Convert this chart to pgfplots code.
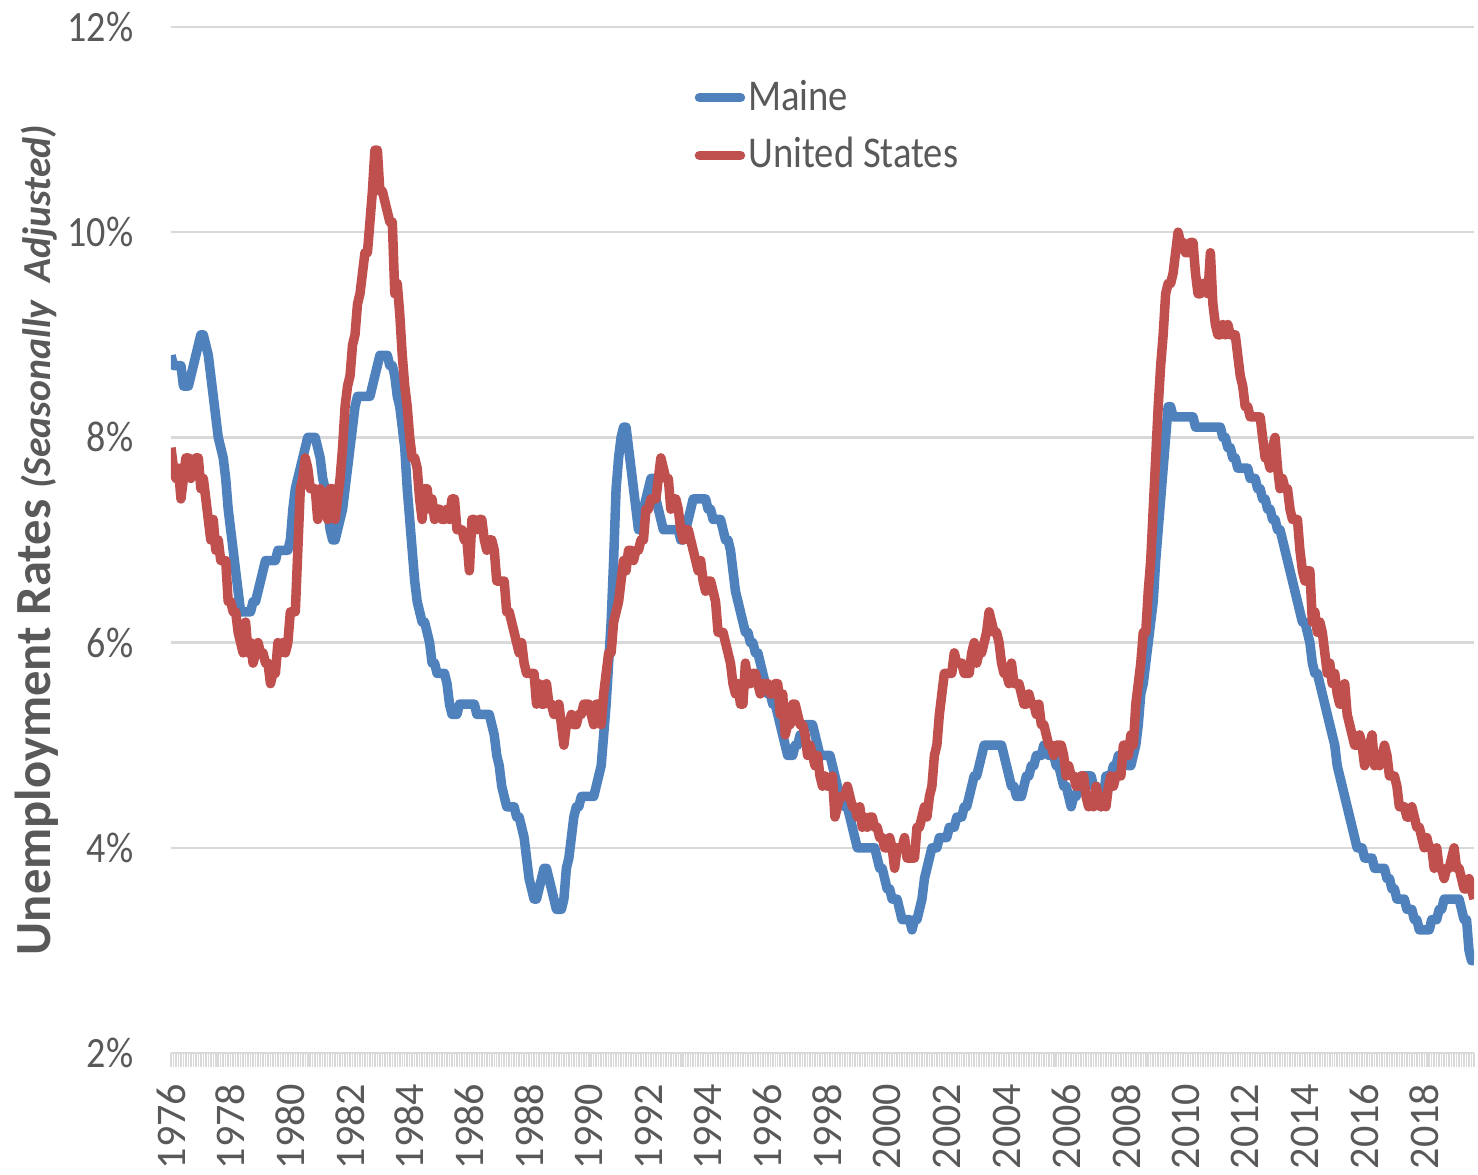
\documentclass[border=0pt]{standalone}
\usepackage{fontspec}
\setmainfont{Carlito}
\newfontfamily\hfont{Carlito}[FakeStretch=0.88]
\usepackage{pgfplots}
\usepackage{pgfplotstable}
\pgfplotsset{compat=1.18}
\definecolor{meblue}{HTML}{4F81BD}
\definecolor{usred}{HTML}{C0504D}
\definecolor{txtgray}{HTML}{595959}
\definecolor{gridgray}{HTML}{D9D9D9}

% Maine, monthly, Jan 1976 - Sep 2019
\pgfplotstableread[row sep=\\]{
v\\
8.8\\8.7\\8.7\\8.7\\8.7\\8.5\\8.5\\8.5\\8.6\\8.7\\8.8\\8.9\\
9.0\\9.0\\8.9\\8.8\\8.6\\8.4\\8.2\\8.0\\7.9\\7.8\\7.6\\7.3\\
7.1\\6.9\\6.7\\6.5\\6.3\\6.3\\6.3\\6.3\\6.3\\6.4\\6.4\\6.5\\
6.6\\6.7\\6.8\\6.8\\6.8\\6.8\\6.8\\6.9\\6.9\\6.9\\6.9\\6.9\\
7.0\\7.3\\7.5\\7.6\\7.7\\7.8\\7.9\\8.0\\8.0\\8.0\\8.0\\7.9\\
7.8\\7.6\\7.5\\7.3\\7.1\\7.0\\7.0\\7.1\\7.2\\7.3\\7.5\\7.7\\
7.9\\8.1\\8.3\\8.4\\8.4\\8.4\\8.4\\8.4\\8.4\\8.5\\8.6\\8.7\\
8.8\\8.8\\8.8\\8.8\\8.7\\8.7\\8.6\\8.4\\8.3\\8.1\\7.9\\7.5\\
7.2\\6.9\\6.6\\6.4\\6.3\\6.2\\6.2\\6.1\\6.0\\5.8\\5.8\\5.7\\
5.7\\5.7\\5.7\\5.6\\5.4\\5.3\\5.3\\5.3\\5.4\\5.4\\5.4\\5.4\\
5.4\\5.4\\5.4\\5.3\\5.3\\5.3\\5.3\\5.3\\5.3\\5.2\\5.1\\4.9\\
4.8\\4.6\\4.5\\4.4\\4.4\\4.4\\4.4\\4.3\\4.3\\4.2\\4.1\\3.9\\
3.7\\3.6\\3.5\\3.5\\3.6\\3.7\\3.8\\3.8\\3.7\\3.6\\3.5\\3.4\\
3.4\\3.4\\3.5\\3.8\\3.9\\4.1\\4.3\\4.4\\4.4\\4.5\\4.5\\4.5\\
4.5\\4.5\\4.5\\4.6\\4.7\\4.8\\5.1\\5.4\\5.8\\6.2\\6.8\\7.5\\
7.8\\8.0\\8.1\\8.1\\7.9\\7.7\\7.5\\7.3\\7.1\\7.1\\7.3\\7.4\\
7.5\\7.6\\7.6\\7.4\\7.3\\7.2\\7.1\\7.1\\7.1\\7.1\\7.1\\7.1\\
7.1\\7.0\\7.0\\7.1\\7.2\\7.3\\7.4\\7.4\\7.4\\7.4\\7.4\\7.4\\
7.3\\7.3\\7.2\\7.2\\7.2\\7.2\\7.1\\7.0\\7.0\\6.9\\6.7\\6.5\\
6.4\\6.3\\6.2\\6.1\\6.1\\6.0\\6.0\\5.9\\5.9\\5.8\\5.7\\5.6\\
5.5\\5.5\\5.4\\5.4\\5.3\\5.2\\5.1\\5.0\\4.9\\4.9\\4.9\\5.0\\
5.0\\5.1\\5.1\\5.2\\5.2\\5.2\\5.2\\5.1\\5.0\\4.9\\4.9\\4.9\\
4.9\\4.9\\4.8\\4.7\\4.6\\4.5\\4.5\\4.4\\4.4\\4.3\\4.2\\4.1\\
4.0\\4.0\\4.0\\4.0\\4.0\\4.0\\4.0\\4.0\\3.9\\3.8\\3.8\\3.7\\
3.6\\3.6\\3.5\\3.5\\3.5\\3.4\\3.3\\3.3\\3.3\\3.3\\3.2\\3.3\\
3.3\\3.4\\3.5\\3.7\\3.8\\3.9\\4.0\\4.0\\4.0\\4.1\\4.1\\4.1\\
4.1\\4.2\\4.2\\4.2\\4.3\\4.3\\4.3\\4.4\\4.4\\4.5\\4.6\\4.7\\
4.7\\4.8\\4.9\\5.0\\5.0\\5.0\\5.0\\5.0\\5.0\\5.0\\5.0\\4.9\\
4.8\\4.7\\4.6\\4.6\\4.5\\4.5\\4.5\\4.6\\4.7\\4.7\\4.8\\4.8\\
4.9\\4.9\\4.9\\5.0\\5.0\\4.9\\4.9\\4.9\\4.8\\4.8\\4.7\\4.6\\
4.6\\4.5\\4.4\\4.5\\4.5\\4.6\\4.7\\4.7\\4.7\\4.7\\4.7\\4.6\\
4.6\\4.5\\4.4\\4.5\\4.7\\4.7\\4.7\\4.8\\4.8\\4.9\\4.9\\4.9\\
4.9\\4.8\\4.8\\4.9\\5.0\\5.2\\5.5\\5.6\\5.8\\6.0\\6.2\\6.4\\
6.8\\7.1\\7.4\\7.7\\8.0\\8.3\\8.3\\8.2\\8.2\\8.2\\8.2\\8.2\\
8.2\\8.2\\8.2\\8.2\\8.1\\8.1\\8.1\\8.1\\8.1\\8.1\\8.1\\8.1\\
8.1\\8.1\\8.1\\8.0\\8.0\\7.9\\7.9\\7.8\\7.8\\7.7\\7.7\\7.7\\
7.7\\7.7\\7.6\\7.6\\7.6\\7.5\\7.5\\7.4\\7.4\\7.3\\7.3\\7.2\\
7.2\\7.1\\7.1\\7.0\\6.9\\6.8\\6.7\\6.6\\6.5\\6.4\\6.3\\6.2\\
6.2\\6.1\\6.0\\5.8\\5.7\\5.7\\5.6\\5.5\\5.4\\5.3\\5.2\\5.1\\
5.0\\4.8\\4.7\\4.6\\4.5\\4.4\\4.3\\4.2\\4.1\\4.0\\4.0\\4.0\\
3.9\\3.9\\3.9\\3.9\\3.8\\3.8\\3.8\\3.8\\3.8\\3.7\\3.7\\3.6\\
3.6\\3.5\\3.5\\3.5\\3.5\\3.4\\3.4\\3.4\\3.3\\3.3\\3.2\\3.2\\
3.2\\3.2\\3.2\\3.3\\3.3\\3.3\\3.4\\3.4\\3.5\\3.5\\3.5\\3.5\\
3.5\\3.5\\3.5\\3.4\\3.3\\3.3\\3.0\\2.9\\2.9\\
}\maine

% United States, monthly, Jan 1976 - Sep 2019
\pgfplotstableread[row sep=\\]{
v\\
7.9\\7.7\\7.6\\7.7\\7.4\\7.6\\7.8\\7.8\\7.6\\7.7\\7.8\\7.8\\
7.5\\7.6\\7.4\\7.2\\7.0\\7.2\\6.9\\7.0\\6.8\\6.8\\6.8\\6.4\\
6.4\\6.3\\6.3\\6.1\\6.0\\5.9\\6.2\\5.9\\6.0\\5.8\\5.9\\6.0\\
5.9\\5.9\\5.8\\5.8\\5.6\\5.7\\5.7\\6.0\\5.9\\6.0\\5.9\\6.0\\
6.3\\6.3\\6.3\\6.9\\7.5\\7.6\\7.8\\7.7\\7.5\\7.5\\7.5\\7.2\\
7.5\\7.4\\7.4\\7.2\\7.5\\7.5\\7.2\\7.4\\7.6\\7.9\\8.3\\8.5\\
8.6\\8.9\\9.0\\9.3\\9.4\\9.6\\9.8\\9.8\\10.1\\10.4\\10.8\\10.8\\
10.4\\10.4\\10.3\\10.2\\10.1\\10.1\\9.4\\9.5\\9.2\\8.8\\8.5\\8.3\\
8.0\\7.8\\7.8\\7.7\\7.4\\7.2\\7.5\\7.5\\7.3\\7.4\\7.2\\7.3\\
7.3\\7.2\\7.2\\7.3\\7.2\\7.4\\7.4\\7.1\\7.1\\7.1\\7.0\\7.0\\
6.7\\7.2\\7.2\\7.1\\7.2\\7.2\\7.0\\6.9\\7.0\\7.0\\6.9\\6.6\\
6.6\\6.6\\6.6\\6.3\\6.3\\6.2\\6.1\\6.0\\5.9\\6.0\\5.8\\5.7\\
5.7\\5.7\\5.7\\5.4\\5.6\\5.4\\5.4\\5.6\\5.4\\5.4\\5.3\\5.3\\
5.4\\5.2\\5.0\\5.2\\5.2\\5.3\\5.2\\5.2\\5.3\\5.3\\5.4\\5.4\\
5.4\\5.3\\5.2\\5.4\\5.4\\5.2\\5.5\\5.7\\5.9\\5.9\\6.2\\6.3\\
6.4\\6.6\\6.8\\6.7\\6.9\\6.9\\6.8\\6.9\\6.9\\7.0\\7.0\\7.3\\
7.3\\7.4\\7.4\\7.4\\7.6\\7.8\\7.7\\7.6\\7.6\\7.3\\7.4\\7.4\\
7.3\\7.1\\7.0\\7.1\\7.1\\7.0\\6.9\\6.8\\6.7\\6.8\\6.6\\6.5\\
6.6\\6.6\\6.5\\6.4\\6.1\\6.1\\6.1\\6.0\\5.9\\5.8\\5.6\\5.5\\
5.6\\5.4\\5.4\\5.8\\5.6\\5.6\\5.7\\5.7\\5.6\\5.5\\5.6\\5.6\\
5.6\\5.5\\5.5\\5.6\\5.6\\5.3\\5.5\\5.1\\5.2\\5.2\\5.4\\5.4\\
5.3\\5.2\\5.2\\5.1\\4.9\\5.0\\4.9\\4.8\\4.9\\4.7\\4.6\\4.7\\
4.6\\4.6\\4.7\\4.3\\4.4\\4.5\\4.5\\4.5\\4.6\\4.5\\4.4\\4.4\\
4.3\\4.4\\4.2\\4.3\\4.2\\4.3\\4.3\\4.2\\4.2\\4.1\\4.1\\4.0\\
4.0\\4.1\\4.0\\3.8\\4.0\\4.0\\4.0\\4.1\\3.9\\3.9\\3.9\\3.9\\
4.2\\4.2\\4.3\\4.4\\4.3\\4.5\\4.6\\4.9\\5.0\\5.3\\5.5\\5.7\\
5.7\\5.7\\5.7\\5.9\\5.8\\5.8\\5.8\\5.7\\5.7\\5.7\\5.9\\6.0\\
5.8\\5.9\\5.9\\6.0\\6.1\\6.3\\6.2\\6.1\\6.1\\6.0\\5.8\\5.7\\
5.7\\5.6\\5.8\\5.6\\5.6\\5.6\\5.5\\5.4\\5.4\\5.5\\5.4\\5.4\\
5.3\\5.4\\5.2\\5.2\\5.1\\5.0\\5.0\\4.9\\5.0\\5.0\\5.0\\4.9\\
4.7\\4.8\\4.7\\4.7\\4.6\\4.6\\4.7\\4.7\\4.5\\4.4\\4.5\\4.4\\
4.6\\4.5\\4.4\\4.5\\4.4\\4.6\\4.7\\4.6\\4.7\\4.7\\4.7\\5.0\\
5.0\\4.9\\5.1\\5.0\\5.4\\5.6\\5.8\\6.1\\6.1\\6.5\\6.8\\7.3\\
7.8\\8.3\\8.7\\9.0\\9.4\\9.5\\9.5\\9.6\\9.8\\10.0\\9.9\\9.9\\
9.8\\9.8\\9.9\\9.9\\9.6\\9.4\\9.4\\9.5\\9.5\\9.4\\9.8\\9.3\\
9.1\\9.0\\9.0\\9.1\\9.0\\9.1\\9.0\\9.0\\9.0\\8.8\\8.6\\8.5\\
8.3\\8.3\\8.2\\8.2\\8.2\\8.2\\8.2\\8.0\\7.8\\7.8\\7.7\\7.9\\
8.0\\7.7\\7.5\\7.6\\7.5\\7.5\\7.3\\7.2\\7.2\\7.2\\6.9\\6.7\\
6.6\\6.7\\6.7\\6.2\\6.3\\6.1\\6.2\\6.1\\5.9\\5.7\\5.8\\5.6\\
5.7\\5.5\\5.4\\5.4\\5.6\\5.3\\5.2\\5.1\\5.0\\5.0\\5.1\\5.0\\
4.8\\4.9\\5.0\\5.1\\4.8\\4.9\\4.8\\4.9\\5.0\\4.9\\4.7\\4.7\\
4.7\\4.6\\4.4\\4.4\\4.4\\4.3\\4.3\\4.4\\4.3\\4.2\\4.2\\4.1\\
4.0\\4.1\\4.0\\4.0\\3.8\\4.0\\3.8\\3.8\\3.7\\3.8\\3.8\\3.9\\
4.0\\3.8\\3.8\\3.7\\3.6\\3.6\\3.7\\3.6\\3.5\\
}\usdata

\begin{document}
\begin{tikzpicture}
\useasboundingbox (-17.1mm,-12.2mm) rectangle (130.7mm,105.3mm);
\begin{axis}[
  at={(0,0)}, anchor=south west,
  scale only axis, width=130.3mm, height=102.6mm,
  xmin=1976, xmax=2019.6667, ymin=2, ymax=12,
  axis line style={draw=none},
  ytick={2,4,6,8,10,12},
  yticklabels={2\%,4\%,6\%,8\%,10\%,12\%},
  ytick style={draw=none},
  ymajorgrids, grid style={gridgray, line width=0.25mm},
  xtick={1976,1978,...,2020},
  xticklabels={1976,1978,1980,1982,1984,1986,1988,1990,1992,1994,1996,1998,2000,2002,2004,2006,2008,2010,2012,2014,2016,2018,2020},
  minor x tick num=23,
  xtick pos=lower,
  tick align=outside,
  major tick length=1.4mm, minor tick length=1.4mm,
  xtick style={draw=gridgray, line width=0.15mm},
  y tick label style={font=\fontsize{12.3}{14}\hfont, text=txtgray, anchor=east, inner sep=0pt},
  yticklabel shift=2.3mm,
  x tick label style={font=\fontsize{12}{14}\selectfont, text=txtgray, rotate=90, anchor=east, inner sep=0pt},
  xticklabel shift=1.6mm,
  ylabel={\textbf{Unemployment Rates} {\fontsize{11.3}{13}\selectfont\bfseries\itshape (Seasonally\ \ Adjusted)}},
  every axis y label/.style={at={(axis description cs:-0.1205,0.5)}, rotate=90, anchor=north, inner sep=0pt, font=\fontsize{14.4}{16}\selectfont, text=txtgray},
  legend style={at={(0.4014,0.952)}, anchor=north west, draw=none, fill=none,
    font=\fontsize{12.5}{14}\hfont, text=txtgray, inner sep=0pt, row sep=1.6mm,
    nodes={inner sep=0.3mm}},
  legend cell align=left,
  legend image code/.code={\draw[#1, line cap=round] (0.45mm,0mm) -- (4.55mm,0mm);},
]
\addplot[meblue, line width=0.95mm, line join=round] table[x expr={1976+\coordindex/12}, y=v] {\maine};
\addlegendentry{Maine}
\addplot[usred, line width=0.95mm, line join=round] table[x expr={1976+\coordindex/12}, y=v] {\usdata};
\addlegendentry{United States}
\end{axis}
\end{tikzpicture}
\end{document}
